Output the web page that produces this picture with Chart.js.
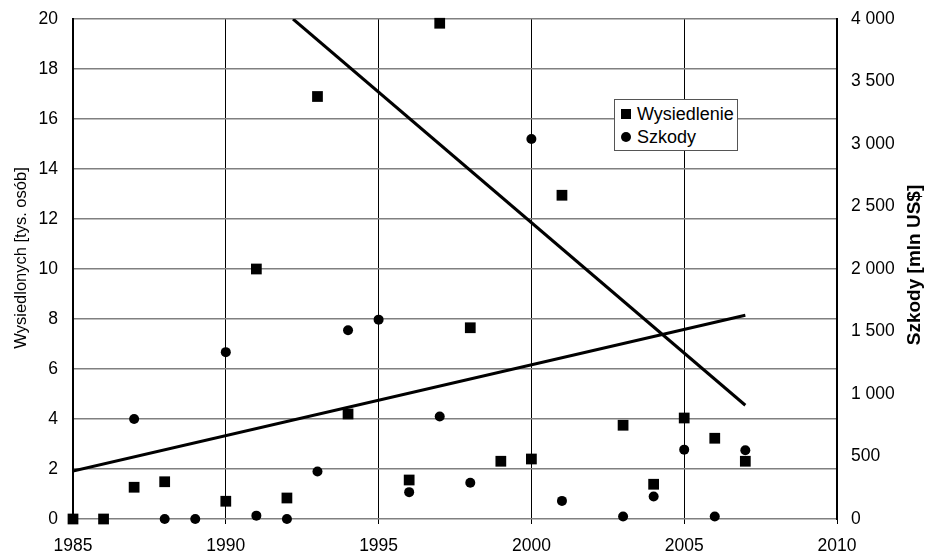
<!DOCTYPE html>
<html>
<head>
<meta charset="utf-8">
<script src="https://cdn.jsdelivr.net/npm/chart.js@4.4.0/dist/chart.umd.min.js"></script>
<style>
  html, body { margin: 0; padding: 0; background: #fff; }
  #wrap { position: relative; width: 925px; height: 556px; }
  #legenda {
    position: absolute; left: 614px; top: 99px; width: 122px; height: 50px;
    border: 1px solid #555; background: #fff;
    font-family: "Liberation Sans", Arial, sans-serif; font-size: 18px; color: #000;
  }
  #legenda div { position: absolute; left: 6px; height: 22px; line-height: 22px; white-space: nowrap; }
  #legenda span.kw { display: inline-block; width: 10px; height: 10px; background: #000; margin-right: 6px; vertical-align: 1px; }
  #legenda span.ko { display: inline-block; width: 10px; height: 10px; background: #000; border-radius: 50%; margin-right: 6px; vertical-align: 1px; }
</style>
</head>
<body>
<div id="wrap">
  <canvas id="wykres" width="925" height="556"></canvas>
  <div id="legenda">
    <div style="top:3px"><span class="kw"></span>Wysiedlenie</div>
    <div style="top:26px"><span class="ko"></span>Szkody</div>
  </div>
</div>
<script>
  const lata = [1985, 1986, 1987, 1988, 1989, 1990, 1991, 1992, 1993, 1994, 1995, 1996,
                1997, 1998, 1999, 2000, 2001, 2002, 2003, 2004, 2005, 2006, 2007];
  // Wysiedlonych [tys. osób]
  const wysiedlenie = [0, 0, 1.27, 1.49, null, 0.71, 10.0, 0.84, 16.9, 4.2, null, 1.56,
                       19.83, 7.65, 2.31, 2.4, 12.95, null, 3.75, 1.39, 4.04, 3.23, 2.31];
  // Szkody [mln US$]
  const szkody = [null, null, 800, 0, 0, 1335, 27, 0, 380, 1510, 1595, 215,
                  820, 290, null, 3040, 145, null, 20, 180, 555, 20, 550];

  // linie trendu (końce, oś lewa)
  const trend1Lata = [1985, 2007];
  const trend1 = [1.92, 8.15];
  const trend2Lata = [1992.2, 2007];
  const trend2 = [20, 4.55];

  const xTicki = [1985, 1990, 1995, 2000, 2005, 2010];

  const punkty = (xs, ys) => xs.map((x, i) => ({ x: x, y: ys[i] })).filter(p => p.y !== null);
  const spacje = v => String(v).replace(/\B(?=(\d{3})+(?!\d))/g, ' ');
  const czcionka = '"Liberation Sans", Arial, sans-serif';

  // stała szerokość osi pionowej, bez dodatkowego marginesu od etykiet
  const osPionowa = szer => s => { s.width = szer; s.paddingTop = 0; s.paddingBottom = 0; };

  // tytuły osi pionowych (oba czytane od dołu do góry)
  const tytulyOsi = {
    id: 'tytulyOsi',
    afterDraw(chart) {
      const ctx = chart.ctx;
      const a = chart.chartArea;
      const srodek = (a.top + a.bottom) / 2;
      ctx.save();
      ctx.fillStyle = '#000';
      ctx.textAlign = 'center';
      ctx.textBaseline = 'middle';

      ctx.save();
      ctx.translate(21, srodek - 11);
      ctx.rotate(-Math.PI / 2);
      ctx.font = '16.5px ' + czcionka;
      ctx.fillText('Wysiedlonych [tys. osób]', 0, 0);
      ctx.restore();

      ctx.save();
      ctx.translate(chart.width - 10, srodek - 4);
      ctx.rotate(-Math.PI / 2);
      ctx.font = 'bold 19px ' + czcionka;
      ctx.fillText('Szkody [mln US$]', 0, 0);
      ctx.restore();

      ctx.restore();
    }
  };

  const wykres = new Chart(document.getElementById('wykres').getContext('2d'), {
    type: 'scatter',
    data: {
      datasets: [{
        label: 'Wysiedlenie',
        data: punkty(lata, wysiedlenie),
        yAxisID: 'y',
        pointStyle: 'rect',
        pointRadius: 7.6,
        pointHoverRadius: 7.6,
        backgroundColor: '#000',
        borderColor: '#000',
        borderWidth: 0,
        clip: false
      }, {
        label: 'Szkody',
        data: punkty(lata, szkody),
        yAxisID: 'y2',
        pointStyle: 'circle',
        pointRadius: 5,
        pointHoverRadius: 5,
        backgroundColor: '#000',
        borderColor: '#000',
        borderWidth: 0,
        clip: false
      }, {
        label: 'trend1',
        data: punkty(trend1Lata, trend1),
        yAxisID: 'y',
        showLine: true,
        pointRadius: 0,
        borderColor: '#000',
        borderWidth: 3
      }, {
        label: 'trend2',
        data: punkty(trend2Lata, trend2),
        yAxisID: 'y',
        showLine: true,
        pointRadius: 0,
        borderColor: '#000',
        borderWidth: 3
      }]
    },
    options: {
      responsive: false,
      animation: false,
      devicePixelRatio: 1,
      layout: { autoPadding: false, padding: { top: 19, left: 0, right: 0, bottom: 0 } },
      plugins: {
        legend: { display: false },
        tooltip: { enabled: false }
      },
      scales: {
        x: {
          type: 'linear',
          min: 1985,
          max: 2010,
          afterFit: s => { s.height = 37; s.paddingLeft = 0; s.paddingRight = 0; },
          afterBuildTicks: s => { s.ticks = xTicki.map(v => ({ value: v })); },
          ticks: {
            color: '#000',
            font: { family: czcionka, size: 17.5 },
            padding: 12,
            maxRotation: 0,
            callback: v => String(v)
          },
          grid: { color: '#000', lineWidth: 1, drawTicks: true, tickLength: 5, tickColor: '#000' },
          border: { display: false }
        },
        y: {
          position: 'left',
          min: 0,
          max: 20,
          afterFit: osPionowa(73),
          ticks: {
            stepSize: 2,
            color: '#000',
            padding: 15,
            font: { family: czcionka, size: 17.5 }
          },
          grid: { color: '#808080', lineWidth: 1.5, drawTicks: false },
          border: { color: '#000', width: 2 }
        },
        y2: {
          position: 'right',
          min: 0,
          max: 4000,
          afterFit: osPionowa(88),
          ticks: {
            stepSize: 500,
            color: '#000',
            padding: 14,
            font: { family: czcionka, size: 17.5 },
            callback: v => spacje(v)
          },
          grid: { drawOnChartArea: false, drawTicks: false },
          border: { color: '#000', width: 2 }
        }
      }
    },
    plugins: [tytulyOsi]
  });
</script>
</body>
</html>
